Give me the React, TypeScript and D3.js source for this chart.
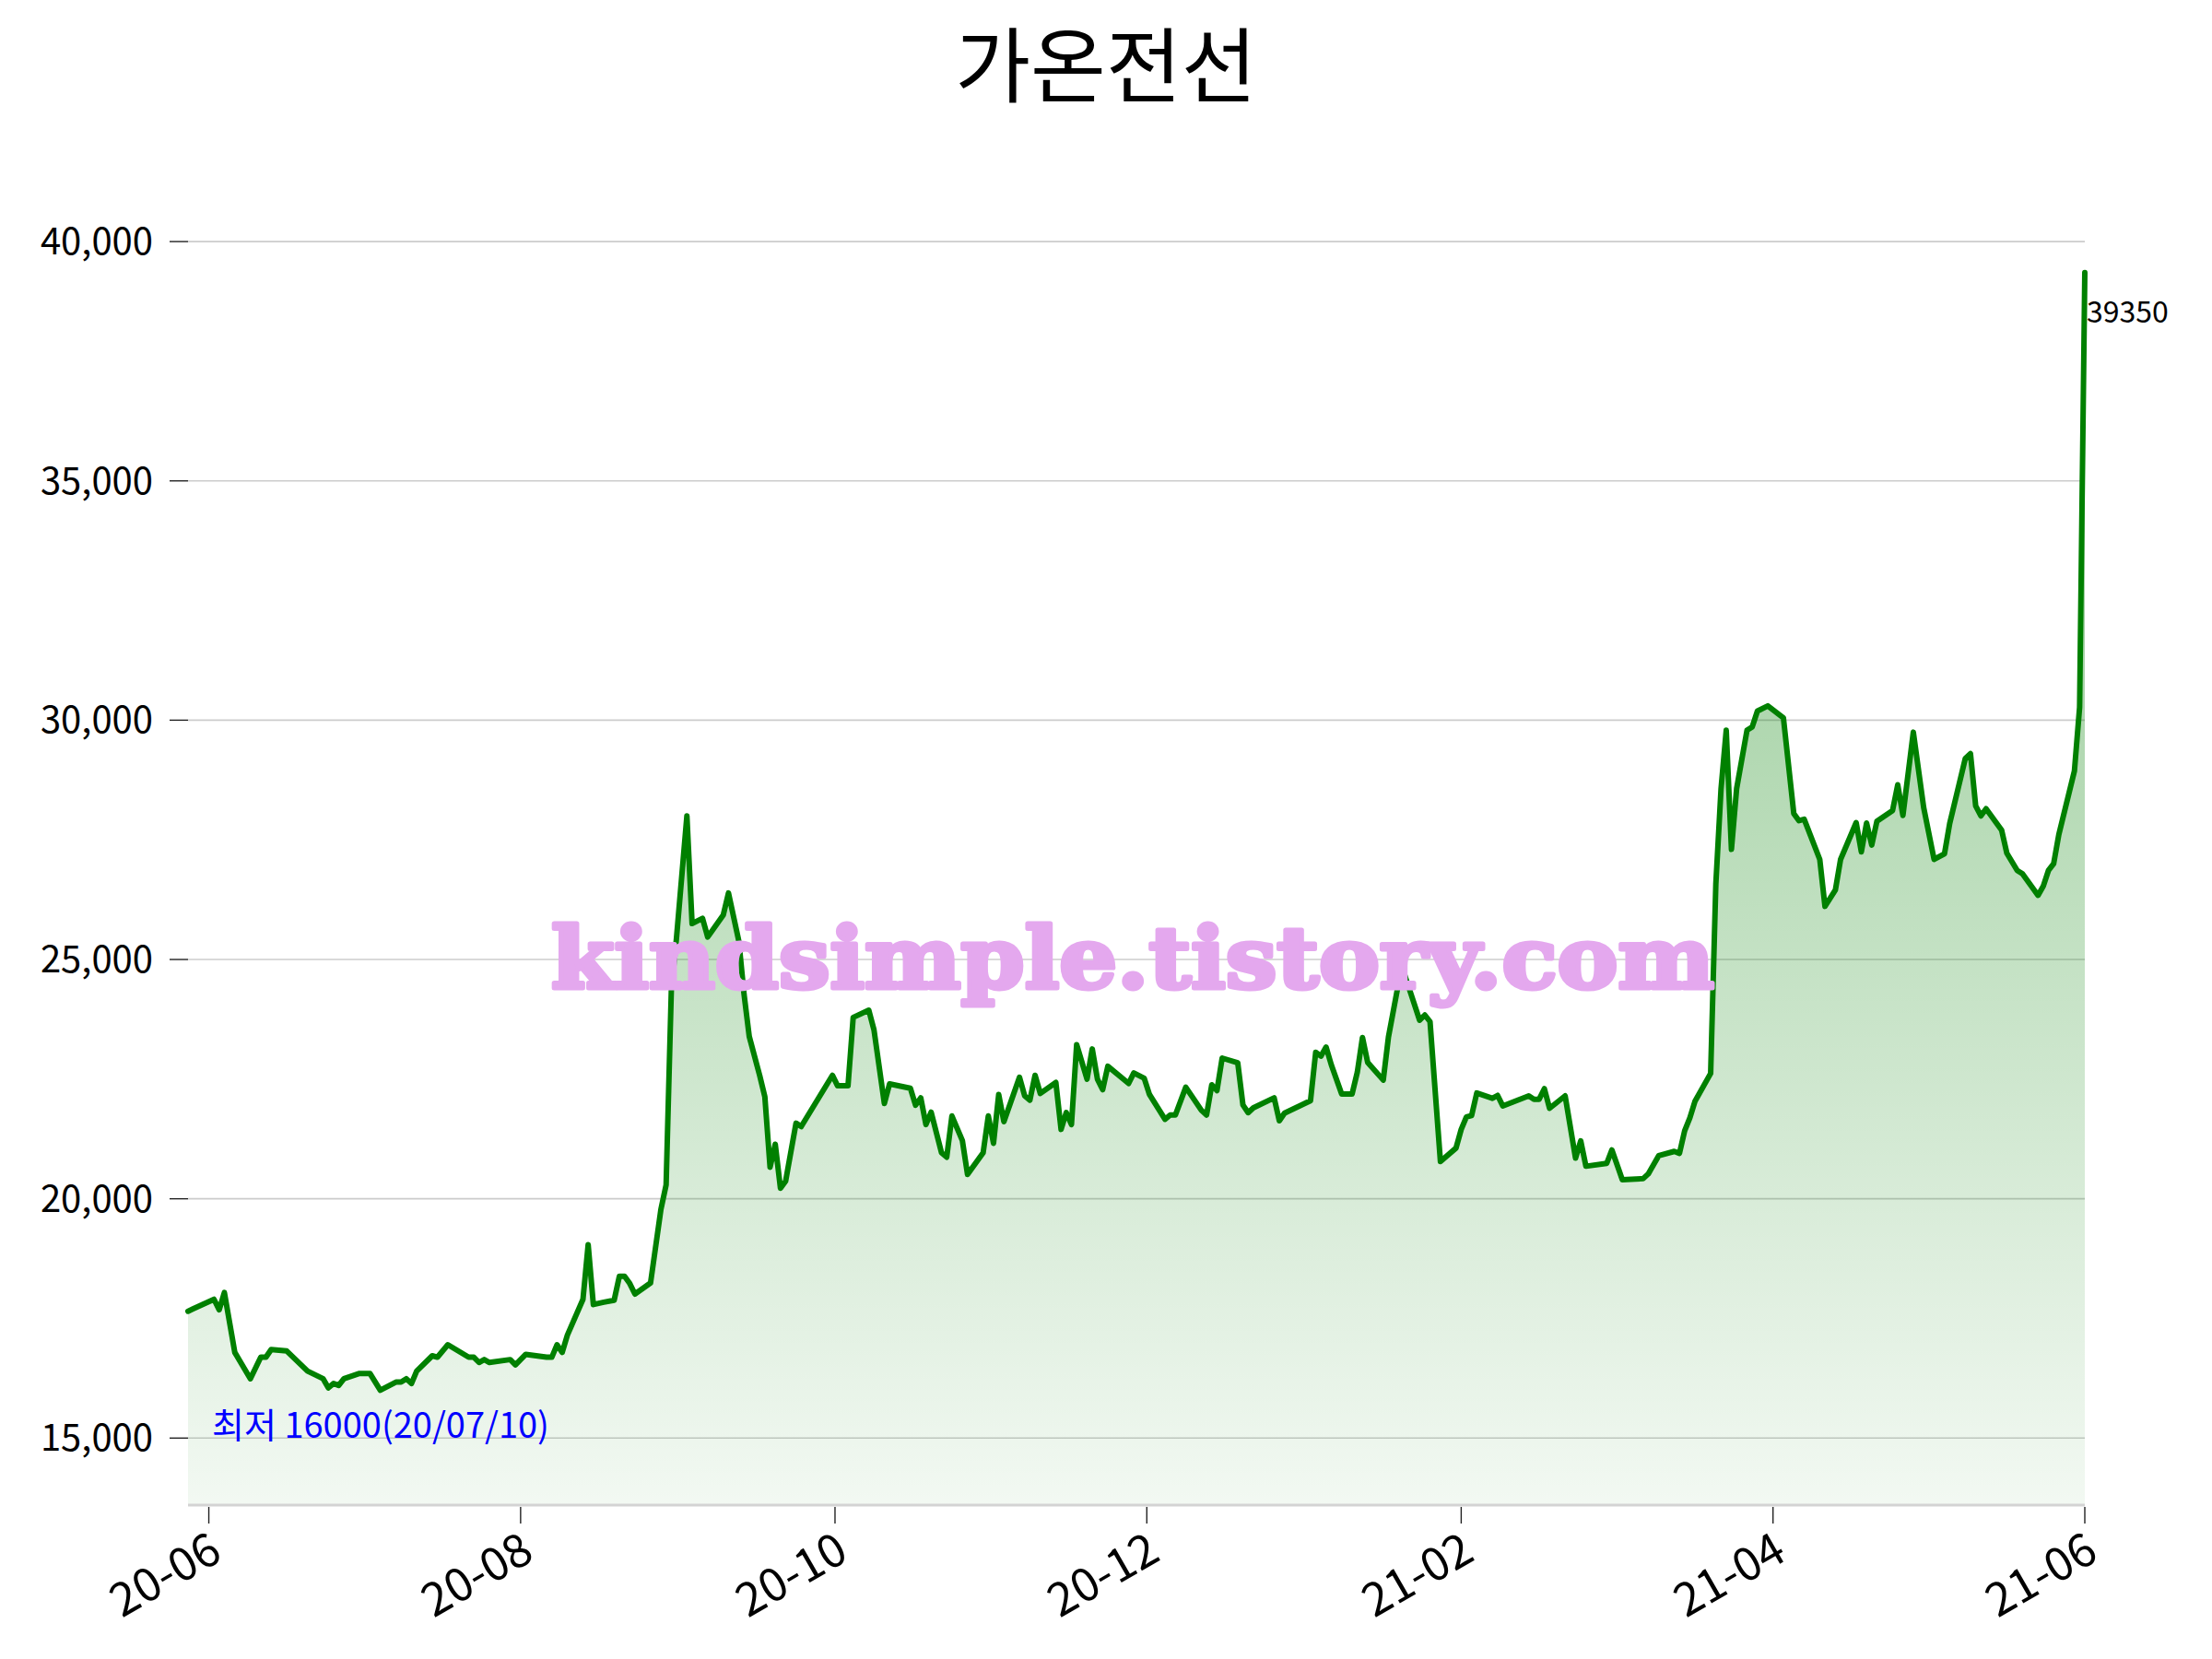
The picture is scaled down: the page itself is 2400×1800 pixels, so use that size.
import React from 'react';
import * as d3 from 'd3';

const TITLE = '가온전선';
const WATERMARK = 'kindsimple.tistory.com';
const MIN_LABEL = '최저 16000(20/07/10)';
const LAST_LABEL = '39350';

// x = calendar day offset from the first trading day in the picture
const dayOffsets = [
  0, 1, 5, 6, 7, 9, 12, 14, 15, 16,
  19, 23, 26, 27, 28, 29, 30, 33, 35, 37,
  40, 41, 42, 43, 44, 47, 48, 50, 54, 55,
  56, 57, 58, 62, 63, 65, 69, 70, 71, 72,
  73, 76, 77, 78, 80, 82, 83, 84, 85, 86,
  89, 91, 92, 93, 94, 96, 97, 99, 100, 103,
  104, 106, 107, 108, 110, 111, 112, 113, 114, 115,
  117, 118, 124, 125, 127, 128, 131, 132, 134, 135,
  139, 140, 141, 142, 143, 145, 146, 147, 149, 150,
  153, 154, 155, 156, 157, 160, 161, 162, 163, 164,
  167, 168, 169, 170, 171, 173, 174, 175, 176, 177,
  181, 182, 184, 185, 188, 189, 190, 192, 195, 196,
  197, 198, 199, 202, 203, 204, 205, 209, 210, 211,
  216, 217, 218, 219, 220, 222, 224, 225, 226, 227,
  230, 231, 232, 233, 234, 237, 238, 239, 241, 244,
  245, 246, 247, 248, 251, 252, 253, 258, 259, 260,
  261, 262, 265, 267, 268, 269, 273, 274, 276, 280,
  281, 283, 286, 287, 288, 289, 290, 293, 294, 295,
  296, 297, 298, 300, 301, 302, 304, 307, 309, 310,
  311, 314, 315, 317, 318, 321, 322, 323, 324, 325,
  328, 329, 330, 332, 334, 336, 338, 339, 342, 343,
  344, 345, 346, 349, 350, 352, 353, 356, 357, 358,
  359, 360, 363, 364, 365,
];

const closePrices = [
  17650, 17700, 17900, 17680, 18040, 16790, 16240, 16690, 16690, 16850,
  16820, 16400, 16240, 16050, 16140, 16100, 16240, 16350, 16350, 16000,
  16170, 16170, 16240, 16140, 16400, 16720, 16690, 16950, 16690, 16690,
  16580, 16640, 16580, 16640, 16530, 16750, 16690, 16690, 16950, 16790,
  17150, 17900, 19040, 17790, 17840, 17880, 18380, 18380, 18230, 18010,
  18240, 19780, 20290, 24350, 25450, 28000, 25750, 25860, 25470, 25930,
  26390, 25380, 24270, 23390, 22580, 22130, 20660, 21140, 20220, 20370,
  21580, 21510, 22580, 22360, 22360, 23790, 23940, 23530, 21990, 22400,
  22310, 21955, 22110, 21550, 21810, 20960, 20870, 21730, 21220, 20510,
  20960, 21730, 21160, 22180, 21610, 22540, 22150, 22060, 22580, 22200,
  22430, 21450, 21800, 21550, 23220, 22500, 23130, 22500, 22280, 22770,
  22410, 22630, 22520, 22180, 21660, 21750, 21750, 22330, 21850, 21750,
  22380, 22260, 22940, 22840, 21960, 21800, 21900, 22110, 21630, 21790,
  22050, 23060, 22980, 23170, 22800, 22190, 22190, 22640, 23370, 22850,
  22480, 23380, 23960, 24540, 24720, 23730, 23840, 23700, 20780, 21060,
  21450, 21710, 21740, 22210, 22100, 22160, 21940, 22150, 22080, 22080,
  22300, 21890, 22150, 20850, 21210, 20680, 20740, 21020, 20400, 20420,
  20520, 20900, 20990, 20950, 21420, 21690, 22040, 22620, 26580, 28570,
  29790, 27300, 28570, 29790, 29860, 30190, 30300, 30050, 28050, 27900,
  27930, 27090, 26110, 26450, 27090, 27860, 27250, 27850, 27390, 27890,
  28110, 28650, 28010, 29750, 28170, 27090, 27210, 27840, 29200, 29300,
  28210, 28000, 28150, 27700, 27220, 26860, 26790, 26340, 26530, 26860,
  27000, 27610, 28940, 30270, 39350,
];

const xTickOffsets = [4, 64, 124.5, 184.5, 245, 305, 365];
const xTickLabels = ['20-06', '20-08', '20-10', '20-12', '21-02', '21-04', '21-06'];
const yTickValues = [15000, 20000, 25000, 30000, 35000, 40000];
const yDomain = [13600, 40137];

const W = 2400;
const H = 1800;
const M = { left: 204, right: 2262, top: 255, bottom: 1633 };
const FONT = "'Noto Sans CJK KR', 'Noto Sans', sans-serif";

export default function App() {
  const data = dayOffsets.map((d, i) => ({ d, v: closePrices[i] }));
  const x = d3.scaleLinear().domain([0, 365]).range([M.left, M.right]);
  const y = d3.scaleLinear().domain(yDomain).range([M.bottom, M.top]);

  const line = d3.line<{ d: number; v: number }>()
    .x((p) => x(p.d))
    .y((p) => y(p.v));
  const area = d3.area<{ d: number; v: number }>()
    .x((p) => x(p.d))
    .y0(M.bottom)
    .y1((p) => y(p.v));

  const maxV = d3.max(closePrices) as number;
  const last = data[data.length - 1];

  return (
    <div style={{ position: 'absolute', left: 0, top: 0 }}>
      <svg width={W} height={H} viewBox={`0 0 ${W} ${H}`} style={{ display: 'block', background: '#fff' }}>
        <defs>
          <linearGradient id="fillGrad" gradientUnits="userSpaceOnUse" x1="0" x2="0" y1={y(maxV)} y2={M.bottom}>
            <stop offset="0%" stopColor="#008000" stopOpacity={0.46} />
            <stop offset="100%" stopColor="#008000" stopOpacity={0.05} />
          </linearGradient>
        </defs>
        <rect x={0} y={0} width={W} height={H} fill="#ffffff" />
        <text x={1200} y={104} textAnchor="middle" fontSize={89} fontFamily={FONT} fill="#000">{TITLE}</text>

        {yTickValues.map((t) => (
          <g key={t}>
            <line x1={M.left} x2={M.right} y1={y(t)} y2={y(t)} stroke="#cccccc" strokeWidth={1.6} />
            <line x1={M.left - 20} x2={M.left} y1={y(t)} y2={y(t)} stroke="#222" strokeWidth={1.4} />
            <text x={M.left - 38} y={y(t)} dy="0.35em" textAnchor="end" fontSize={40} fontFamily={FONT} fill="#000">
              {d3.format(',')(t)}
            </text>
          </g>
        ))}

        <path d={area(data) || ''} fill="url(#fillGrad)" stroke="none" />
        <path d={line(data) || ''} fill="none" stroke="#008000" strokeWidth={6} strokeLinejoin="round" strokeLinecap="round" />

        <line x1={M.left} x2={M.right} y1={M.bottom} y2={M.bottom} stroke="#d3d3d3" strokeWidth={3} />
        {xTickOffsets.map((t, i) => (
          <g key={t}>
            <line x1={x(t)} x2={x(t)} y1={M.bottom + 2} y2={M.bottom + 20} stroke="#222" strokeWidth={1.4} />
            <text
              transform={`translate(${x(t) - 2},${M.bottom + 26}) rotate(-30)`}
              textAnchor="end"
              dy="0.75em"
              fontSize={50}
              fontFamily={FONT}
              fill="#000"
            >
              {xTickLabels[i]}
            </text>
          </g>
        ))}

        <text x={230} y={y(15000)} fontSize={38} fontFamily={FONT} fill="#0000ff">{MIN_LABEL}</text>
        <text x={x(last.d) + 2} y={350} fontSize={32} fontFamily={FONT} fill="#000">{LAST_LABEL}</text>

        <text
          x={1229}
          y={1072}
          textAnchor="middle"
          fontSize={92}
          fontWeight="bold"
          fontFamily="'DejaVu Serif', serif"
          fill="#e4a8ee"
          stroke="#e4a8ee"
          strokeWidth={5}
          strokeLinejoin="round"
          textLength={1262}
          lengthAdjust="spacingAndGlyphs"
        >
          {WATERMARK}
        </text>
      </svg>
    </div>
  );
}
